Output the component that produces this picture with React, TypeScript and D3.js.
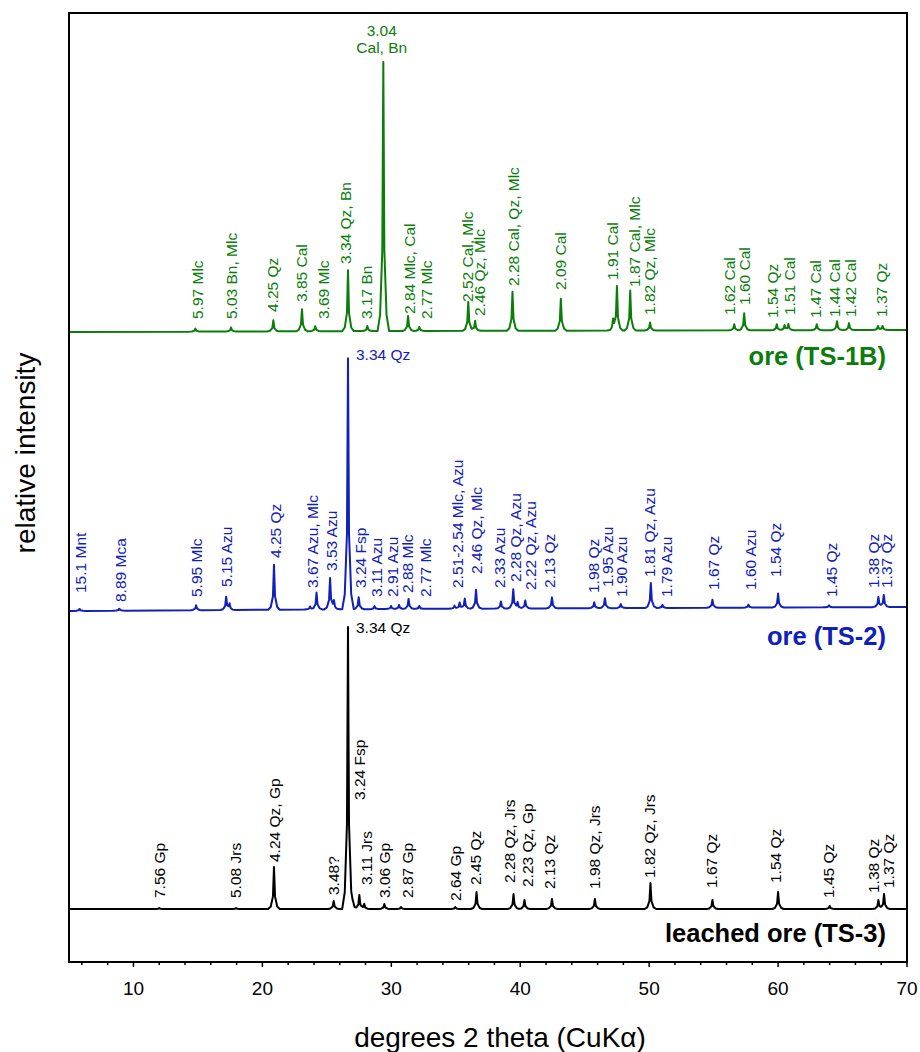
import React from "react";
import * as d3 from "d3";

// ---------- data ----------
const xDomain: [number, number] = [5, 70];
const majorTicks = [10, 20, 30, 40, 50, 60, 70];
const tickLabels = ["10", "20", "30", "40", "50", "60", "70"];
const minorTicks = [6, 8, 12, 14, 16, 18, 22, 24, 26, 28, 32, 34, 36, 38, 42, 44, 46, 48, 52, 54, 56, 58, 62, 64, 66, 68];

const patternNames = ["ore (TS-1B)", "ore (TS-2)", "leached ore (TS-3)"];
const patternOffsets = [631, 353, 53];

// background drift [2theta, intensity]
const bgTS1B = [[5, -1], [30, 0], [70, 1]];
const bgTS2 = [[5, -2], [30, 0], [70, 2]];
const bgTS3 = [[5, 0], [70, 0]];

// peaks [2theta, intensity]
const peaksTS1B = [
  [14.8, 3], [17.57, 4], [20.85, 11], [23.07, 22], [24.1, 5], [26.64, 61], [28.14, 5],
  [29.38, 269], [31.3, 15], [32.17, 4], [35.97, 29], [36.5, 10], [39.4, 39], [43.15, 32],
  [47.2, 10], [47.5, 44], [48.53, 40], [50.07, 8], [56.6, 6], [57.37, 17], [59.9, 6],
  [60.5, 5], [60.8, 6], [63.0, 6], [64.57, 9], [65.5, 7], [67.75, 4], [68.1, 4],
];
const peaksTS2 = [
  [5.82, 2], [8.9, 2], [14.86, 5], [17.19, 13], [17.45, 6], [20.9, 45], [23.7, 3], [24.2, 17],
  [25.25, 31], [25.55, 8], [26.64, 251], [27.47, 12], [28.7, 3], [29.98, 3], [30.6, 4],
  [31.34, 10], [32.17, 3], [34.9, 3], [35.3, 6], [35.7, 10], [36.57, 19], [38.5, 7],
  [39.46, 19], [39.8, 6], [40.39, 8], [42.46, 11], [45.74, 6], [46.57, 10], [47.8, 4],
  [50.13, 25], [51.03, 3], [54.91, 8], [57.7, 3], [60.0, 14], [63.95, 2], [67.78, 10], [68.2, 12],
];
const peaksTS3 = [
  [12.0, 1], [17.96, 1], [20.9, 42], [25.53, 8], [26.64, 282], [27.08, 5], [27.52, 14],
  [27.9, 5], [29.46, 5], [30.75, 2], [34.96, 2], [36.61, 17], [39.48, 15], [40.33, 9],
  [42.46, 10], [45.79, 10], [50.1, 26], [54.91, 9], [60.0, 17], [64.0, 3], [67.78, 9], [68.22, 15],
];

// vertical peak labels [text, 2theta, intensity where label starts]
const labelsTS1B: [string, number, number][] = [
  ["5.97 Mlc", 14.94, 12], ["5.03 Bn, Mlc", 17.62, 12], ["4.25 Qz", 20.8, 19],
  ["3.85 Cal", 23.02, 29], ["3.69 Mlc", 24.78, 12], ["3.34 Qz, Bn", 26.49, 67],
  ["3.17 Bn", 28.09, 12], ["2.84 Mlc, Cal", 31.4, 17], ["2.77 Mlc", 32.7, 12],
  ["2.52 Cal, Mlc", 35.9, 29], ["2.46 Qz, Mlc", 36.87, 15], ["2.28 Cal, Qz, Mlc", 39.46, 45],
  ["2.09 Cal", 43.15, 41], ["1.91 Cal", 47.2, 51], ["1.87 Cal, Mlc", 48.84, 44],
  ["1.82 Qz, Mlc", 50.0, 16], ["1.62 Cal", 56.26, 16], ["1.60 Cal", 57.37, 26],
  ["1.54 Qz", 59.6, 13], ["1.51 Cal", 60.9, 16], ["1.47 Cal", 62.87, 13],
  ["1.44 Cal", 64.42, 14], ["1.42 Cal", 65.63, 14], ["1.37 Qz", 68.04, 14],
];
const labelsTS2: [string, number, number][] = [
  ["15.1 Mnt", 5.87, 16], ["8.89 Mca", 8.97, 7], ["5.95 Mlc", 14.9, 12], ["5.15 Azu", 17.21, 22],
  ["4.25 Qz", 21.0, 51], ["3.67 Azu, Mlc", 23.9, 21], ["3.53 Azu", 25.33, 38],
  ["3.24 Fsp", 27.65, 21], ["3.11 Azu", 28.86, 12], ["2.91 Azu", 30.1, 12],
  ["2.88 Mlc", 31.26, 16], ["2.77 Mlc", 32.64, 12], ["2.51-2.54 Mlc, Azu", 35.17, 21],
  ["2.46 Qz, Mlc", 36.61, 35], ["2.33 Azu", 38.37, 21], ["2.28 Qz, Azu", 39.67, 27],
  ["2.22 Qz, Azu", 40.78, 19], ["2.13 Qz", 42.25, 21], ["1.98 Qz", 45.66, 16],
  ["1.95 Azu", 46.77, 22], ["1.90 Azu", 47.88, 12], ["1.81 Qz, Azu", 50.0, 32],
  ["1.79 Azu", 51.34, 12], ["1.67 Qz", 54.96, 19], ["1.60 Azu", 57.83, 19],
  ["1.54 Qz", 59.82, 32], ["1.45 Qz", 64.16, 12], ["1.38 Qz", 67.37, 21], ["1.37 Qz", 68.4, 21],
];
const labelsTS3: [string, number, number][] = [
  ["7.56 Gp", 12.02, 11], ["5.08 Jrs", 17.91, 11], ["4.24 Qz, Gp", 20.93, 47],
  ["3.48?", 25.5, 14], ["3.24 Fsp", 27.57, 109], ["3.11 Jrs", 28.09, 24],
  ["3.06 Gp", 29.5, 11], ["2.87 Gp", 31.26, 11], ["2.64 Gp", 35.0, 8],
  ["2.45 Qz", 36.56, 24], ["2.28 Qz, Jrs", 39.15, 26], ["2.23 Qz, Gp", 40.57, 22],
  ["2.13 Qz", 42.3, 20], ["1.98 Qz, Jrs", 45.74, 20], ["1.82 Qz, Jrs", 50.0, 31],
  ["1.67 Qz", 54.86, 21], ["1.54 Qz", 59.82, 26], ["1.45 Qz", 63.9, 11],
  ["1.38 Qz", 67.37, 16], ["1.37 Qz", 68.55, 21],
];

// horizontal labels of the strongest reflections
const topLabelTS1B = { lines: ["3.04", "Cal, Bn"], x: 29.26, y: 295, anchor: "middle" };
const topLabelTS2 = { lines: ["3.34 Qz"], x: 27.26, y: 249, anchor: "start" };
const topLabelTS3 = { lines: ["3.34 Qz"], x: 27.26, y: 276, anchor: "start" };

// ---------- styles ----------
const W = 920;
const H = 1052;
const FONT = "'Liberation Sans', Arial, Helvetica, sans-serif";
const colors = ["#0b7d0b", "#1020b8", "#000000"];

const kernelX = [-0.45, -0.25, -0.08, 0, 0.08, 0.25, 0.45];
const kernelY = [0, 0.06, 0.3, 1, 0.3, 0.06, 0];

function buildProfile(peaks: number[][], bg: number[][]) {
  const kernel = d3.scaleLinear().domain(kernelX).range(kernelY).clamp(true);
  const bgScale = d3.scaleLinear().domain(bg.map((d) => d[0])).range(bg.map((d) => d[1]));
  const xs = new Set<number>();
  xs.add(xDomain[0]);
  xs.add(xDomain[1]);
  bg.forEach((b) => xs.add(b[0]));
  peaks.forEach(([p]) => kernelX.forEach((k) => {
    const v = +(p + k).toFixed(3);
    if (v >= xDomain[0] && v <= xDomain[1]) xs.add(v);
  }));
  const sorted = Array.from(xs).sort((a, b) => a - b);
  return sorted.map((x) => {
    let y = bgScale(x);
    peaks.forEach(([p, h]) => {
      const dx = x - p;
      if (Math.abs(dx) < 0.45) y += h * kernel(dx);
    });
    return [x, y] as [number, number];
  });
}

export default function App() {
  const left = 69, right = 907, top = 13, bottom = 962;
  const x = d3.scaleLinear().domain(xDomain).range([left, right]);
  const y = d3.scaleLinear().domain([0, bottom - top]).range([bottom, top]);

  const patterns = [
    { peaks: peaksTS1B, bg: bgTS1B, labels: labelsTS1B, top: topLabelTS1B, legendY: 365 },
    { peaks: peaksTS2, bg: bgTS2, labels: labelsTS2, top: topLabelTS2, legendY: 645 },
    { peaks: peaksTS3, bg: bgTS3, labels: labelsTS3, top: topLabelTS3, legendY: 942 },
  ];

  return (
    <svg width={W} height={H} style={{ position: "absolute", left: 0, top: 0, background: "#fff" }} fontFamily={FONT}>
      <rect x={0} y={0} width={W} height={H} fill="#fff" />
      {patterns.map((p, i) => {
        const off = patternOffsets[i];
        const prof = buildProfile(p.peaks, p.bg);
        const line = d3.line<[number, number]>().x((d) => x(d[0])).y((d) => y(d[1] + off));
        const col = colors[i];
        return (
          <g key={i}>
            <path d={line(prof) || ""} fill="none" stroke={col} strokeWidth={2} strokeLinejoin="round" />
            {p.labels.map(([t, lx, ly], j) => (
              <text
                key={j}
                transform={`translate(${x(lx)},${y(ly + off)}) rotate(-90)`}
                dy="0.35em"
                fontSize={15.5}
                fill={col}
              >
                {t}
              </text>
            ))}
            {p.top.lines.map((t, j) => (
              <text
                key={"t" + j}
                x={x(p.top.x)}
                y={y(p.top.y + off) + j * 17}
                textAnchor={p.top.anchor as any}
                fontSize={15.5}
                fill={col}
              >
                {t}
              </text>
            ))}
            <text x={886} y={p.legendY} textAnchor="end" fontSize={25.5} fontWeight="bold" fill={col}>
              {patternNames[i]}
            </text>
          </g>
        );
      })}
      {/* frame */}
      <rect x={left} y={top} width={right - left} height={bottom - top} fill="none" stroke="#000" strokeWidth={2} />
      {/* ticks */}
      {minorTicks.map((t) => (
        <line key={"m" + t} x1={x(t)} x2={x(t)} y1={bottom} y2={bottom + 3} stroke="#000" strokeWidth={1.5} />
      ))}
      {majorTicks.map((t, i) => (
        <g key={"M" + t}>
          <line x1={x(t)} x2={x(t)} y1={bottom} y2={bottom + 5} stroke="#000" strokeWidth={1.5} />
          <text x={x(t)} y={995} textAnchor="middle" fontSize={19} fill="#000">
            {tickLabels[i]}
          </text>
        </g>
      ))}
      <text x={500} y={1047} textAnchor="middle" fontSize={28} fill="#000">
        degrees 2 theta (CuKα)
      </text>
      <text transform="translate(35,453) rotate(-90)" textAnchor="middle" fontSize={28} fill="#000">
        relative intensity
      </text>
    </svg>
  );
}
